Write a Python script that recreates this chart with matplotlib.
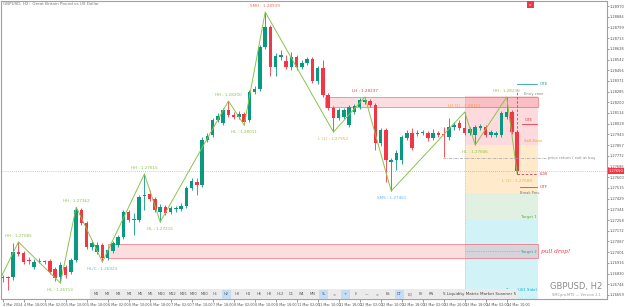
import matplotlib.pyplot as plt
from matplotlib.patches import Rectangle
import matplotlib.transforms as mtransforms
import numpy as np

# ---- data: GBPUSD H2 candles, bar 0 = 4 Mar 2024 10:00 ----
opens = [1.26802, 1.26802, 1.26802, 1.27002, 1.26994, 1.26938, 1.26882, 1.26930, 1.26930, 1.26930,
         1.26866, 1.26802, 1.26882, 1.26842, 1.26938, 1.27338, 1.27234, 1.27042, 1.27002, 1.27058,
         1.26954, 1.27010, 1.27058, 1.27122, 1.27322, 1.27258, 1.27258, 1.27450, 1.27466, 1.27426,
         1.27322, 1.27362, 1.27322, 1.27346, 1.27346, 1.27370, 1.27514, 1.27562, 1.27538, 1.27898,
         1.27938, 1.28058, 1.28034, 1.28138, 1.28098, 1.28082, 1.28106, 1.28058, 1.28282, 1.28306,
         1.28642, 1.28802, 1.28482, 1.28562, 1.28530, 1.28482, 1.28562, 1.28482, 1.28514, 1.28546,
         1.28370, 1.28474, 1.28258, 1.28154, 1.28074, 1.28082, 1.28018, 1.28122, 1.28162, 1.28202,
         1.28210, 1.28178, 1.27874, 1.27978, 1.27722, 1.27738, 1.27738, 1.27914, 1.27954, 1.27946,
         1.27954, 1.27954, 1.27914, 1.27954, 1.27946, 1.27922, 1.28002, 1.28034, 1.27994, 1.27954,
         1.27938, 1.27994, 1.28002, 1.27938, 1.27938, 1.27938, 1.28082, 1.28122, 1.27962]
closes = [1.26794, 1.26794, 1.27002, 1.26986, 1.26922, 1.26930, 1.26922, 1.26926, 1.26922, 1.26842,
          1.26794, 1.26898, 1.26818, 1.26938, 1.27338, 1.27234, 1.27042, 1.27074, 1.27058, 1.26954,
          1.27018, 1.27074, 1.27122, 1.27322, 1.27258, 1.27266, 1.27442, 1.27458, 1.27426, 1.27338,
          1.27362, 1.27314, 1.27354, 1.27350, 1.27370, 1.27514, 1.27570, 1.27538, 1.27898, 1.27930,
          1.28058, 1.28090, 1.28138, 1.28098, 1.28082, 1.28106, 1.28042, 1.28282, 1.28306, 1.28642,
          1.28802, 1.28482, 1.28570, 1.28578, 1.28482, 1.28562, 1.28482, 1.28514, 1.28546, 1.28370,
          1.28474, 1.28258, 1.28154, 1.28074, 1.28138, 1.28138, 1.28162, 1.28170, 1.28218, 1.28218,
          1.28178, 1.27874, 1.27978, 1.27738, 1.27738, 1.27794, 1.27922, 1.27954, 1.27834, 1.27954,
          1.27962, 1.27914, 1.27954, 1.27938, 1.27938, 1.28002, 1.28018, 1.27994, 1.27954, 1.27986,
          1.28002, 1.28010, 1.27938, 1.27962, 1.27954, 1.28114, 1.28122, 1.27962, 1.27650]
highs = [1.26818, 1.26810, 1.27074, 1.27082, 1.27010, 1.26962, 1.26946, 1.26954, 1.26938, 1.26946,
         1.26882, 1.26922, 1.26898, 1.26954, 1.27362, 1.27354, 1.27250, 1.27098, 1.27082, 1.27074,
         1.27034, 1.27090, 1.27138, 1.27338, 1.27338, 1.27314, 1.27458, 1.27626, 1.27498, 1.27442,
         1.27386, 1.27378, 1.27370, 1.27370, 1.27394, 1.27530, 1.27594, 1.27594, 1.27922, 1.27954,
         1.28074, 1.28114, 1.28154, 1.28210, 1.28122, 1.28130, 1.28122, 1.28298, 1.28330, 1.28658,
         1.28922, 1.28818, 1.28594, 1.28618, 1.28578, 1.28602, 1.28578, 1.28538, 1.28562, 1.28562,
         1.28490, 1.28538, 1.28274, 1.28170, 1.28154, 1.28154, 1.28178, 1.28186, 1.28234, 1.28242,
         1.28226, 1.28194, 1.27994, 1.27994, 1.27754, 1.27818, 1.27938, 1.27978, 1.27994, 1.27978,
         1.27978, 1.27970, 1.27986, 1.27970, 1.28002, 1.28074, 1.28042, 1.28058, 1.28122, 1.28002,
         1.28018, 1.28026, 1.28018, 1.27978, 1.27970, 1.28130, 1.28242, 1.28138, 1.27978]
lows = [1.26762, 1.26698, 1.26778, 1.26970, 1.26906, 1.26906, 1.26866, 1.26914, 1.26906, 1.26826,
        1.26770, 1.26754, 1.26794, 1.26826, 1.26922, 1.27218, 1.27026, 1.27018, 1.26986, 1.26922,
        1.26938, 1.26994, 1.27042, 1.27106, 1.27242, 1.27138, 1.27242, 1.27338, 1.27410, 1.27322,
        1.27242, 1.27298, 1.27306, 1.27322, 1.27330, 1.27354, 1.27498, 1.27458, 1.27522, 1.27882,
        1.27922, 1.28042, 1.28018, 1.28082, 1.28066, 1.28066, 1.28018, 1.28042, 1.28266, 1.28290,
        1.28626, 1.28410, 1.28410, 1.28538, 1.28466, 1.28458, 1.28458, 1.28466, 1.28498, 1.28354,
        1.28346, 1.28242, 1.28138, 1.27962, 1.28058, 1.28066, 1.28002, 1.28106, 1.28146, 1.28186,
        1.28162, 1.27818, 1.27850, 1.27562, 1.27490, 1.27658, 1.27706, 1.27898, 1.27818, 1.27930,
        1.27938, 1.27890, 1.27898, 1.27922, 1.27762, 1.27898, 1.27978, 1.27978, 1.27938, 1.27938,
        1.27858, 1.27978, 1.27922, 1.27922, 1.27922, 1.27922, 1.28066, 1.27946, 1.27626]

# swing points of the zigzag (bar index, price)
swing_bar = [-1, 3, 11, 14, 19, 27, 30, 43, 46, 50, 63, 69, 74, 88, 90, 96, 98]
swing_price = [1.26742, 1.27082, 1.26754, 1.27362, 1.26922, 1.27626, 1.27242, 1.28210, 1.28018,
               1.28922, 1.27962, 1.28242, 1.27490, 1.28122, 1.27858, 1.28242, 1.27626]
swing_text = ['', 'HH : 1.27085', 'HL : 1.26713', 'HH : 1.27362', 'HL/C : 1.26923', 'HH : 1.27615',
              'HL : 1.27215', 'HH : 1.28200', 'HL : 1.28011', 'SMH : 1.28939', 'L (1) : 1.27952',
              'LH : 1.28237', 'SMS : 1.27461', 'LH (1) : 1.28111', 'HL : 1.27846', 'HH : 1.28239',
              'L (1) : 1.27688']
swing_color = ['', '#8bc34a', '#8bc34a', '#8bc34a', '#64b5f6', '#8bc34a', '#8bc34a', '#8bc34a',
               '#8bc34a', '#f0695a', '#e0b054', '#c0504d', '#64b5f6', '#f0a050', '#8bc34a',
               '#8bc34a', '#e0b054']

dates = ['4 Mar 2024', '4 Mar 18:00', '5 Mar 02:00', '5 Mar 10:00', '5 Mar 18:00', '6 Mar 02:00',
         '6 Mar 10:00', '6 Mar 18:00', '7 Mar 02:00', '7 Mar 10:00', '7 Mar 18:00', '8 Mar 02:00',
         '8 Mar 10:00', '8 Mar 18:00', '11 Mar 02:00', '11 Mar 10:00', '11 Mar 18:00', '12 Mar 02:00',
         '12 Mar 10:00', '12 Mar 18:00', '13 Mar 02:00', '13 Mar 10:00', '13 Mar 18:00',
         '14 Mar 02:00', '14 Mar 10:00']

buttons = ['M1', 'M2', 'M3', 'M4', 'M5', 'M6', 'M10', 'M12', 'M15', 'M20', 'M30', 'H1', 'H2', 'H3',
           'H4', 'H6', 'H8', 'H12', 'D1', 'W1', 'MN', 'SL', '<', '+', '()', '—', '>', 'ES', 'DT',
           'LQ', 'FE', 'RN']
active = ['H2', 'SL', '+', 'DT']

last_price = 1.27650
zone_top = (1.28246, 1.28166)      # supply zone
zone_low = (1.27066, 1.26954)      # "pull drop!" zone
box_levels = [1.28250, 1.27858, 1.27474, 1.27266, 1.26626]

# ---- figure ----
W, H = 625, 307
fig = plt.figure(figsize=(W / 100, H / 100), dpi=100)
ax = fig.add_axes([1 / W, 1 - 299 / H, 606 / W, 298 / H])

o, h, l, c = map(np.array, (opens, highs, lows, closes))
xb = np.arange(len(o))
col = np.where(c >= o, '#089981', '#f23645')
ax.vlines(xb, l, h, colors=col, lw=0.6, zorder=4)
ax.bar(xb, np.maximum(np.abs(c - o), 0.00005), bottom=np.minimum(o, c), width=0.66,
       color=col, lw=0, zorder=5)

# zones
ax.add_patch(Rectangle((61.4, zone_top[1]), 101.96 - 61.4, zone_top[0] - zone_top[1],
                       fc=(0.95, 0.21, 0.27, 0.16), ec=(0.95, 0.21, 0.27, 0.5), lw=0.7, zorder=2))
ax.add_patch(Rectangle((20.0, zone_low[1]), 101.96 - 20.0, zone_low[0] - zone_low[1],
                       fc=(0.95, 0.21, 0.27, 0.16), ec=(0.95, 0.21, 0.27, 0.5), lw=0.7, zorder=2))

# projection box
box_cols = [('#f23645', 0.18), ('#ff9800', 0.2), ('#4caf50', 0.17), ('#00bcd4', 0.18)]
for i, (cc, a) in enumerate(box_cols):
    ax.add_patch(Rectangle((88.06, box_levels[i + 1]), 101.96 - 88.06,
                           box_levels[i] - box_levels[i + 1], fc=cc, alpha=a, lw=0, zorder=1))
ax.plot([88.06, 88.06], [box_levels[-1], box_levels[0]], color='#bbbbbb', lw=0.4, ls=(0, (2, 2)), zorder=2)

# zigzag
ax.plot(swing_bar, swing_price, color='#8bc34a', lw=0.7, zorder=6)
for i in range(1, len(swing_bar)):
    peak = swing_price[i] >= swing_price[i - 1]
    ax.annotate(swing_text[i], (swing_bar[i], swing_price[i]), xytext=(0, 3 if peak else -3.5),
                textcoords='offset points', ha='center', va='bottom' if peak else 'top',
                fontsize=3.0, color=swing_color[i], zorder=7)

# current price line
ax.axhline(last_price, color='#f23645', lw=0.5, ls=(0, (1, 2)), alpha=0.7, zorder=3)
tr = mtransforms.blended_transform_factory(ax.transAxes, ax.transData)
ax.text(1.002, last_price, f'{last_price:.5f}', transform=tr, fontsize=2.6, color='white',
        va='center', ha='left', bbox=dict(fc='#f23645', ec='none', pad=0.5), zorder=10, clip_on=False)

# annotations inside the projection box
ax.plot([98, 101.8], [1.28346, 1.28346], color='#26a69a', lw=0.6, zorder=6)
ax.text(102.2, 1.28346, 'OTE', fontsize=3, color='#26a69a', va='center')
ax.text(99.3, 1.28262, 'Entry zone', fontsize=2.6, color='#888888', va='center')
ax.plot([99.0, 101.8], [1.28026, 1.28026], color='#f23645', lw=0.6, zorder=6)
ax.text(99.4, 1.28040, 'OTE', fontsize=2.8, color='#f23645', va='bottom')
ax.text(99.2, 1.27874, 'Sell Zone', fontsize=2.8, color='#ff9800', va='bottom')
ax.plot([98, 98], [1.27626, 1.28298], color='#d04050', lw=0.6, ls=(0, (3, 2)), zorder=6)
ax.plot([98, 101.8], [1.27626, 1.27626], color='#d04050', lw=0.6, ls=(0, (3, 2)), zorder=6)
ax.text(102.3, 1.27626, 'LOB', fontsize=3, color='#d04050', va='center')
ax.plot([98.5, 101.8], [1.27522, 1.27522], color='#f23645', lw=0.6, zorder=6)
ax.text(102.3, 1.27522, 'OTF', fontsize=3, color='#f23645', va='center')
ax.text(98.5, 1.27490, 'Break Prev.', fontsize=2.6, color='#777777', va='top')
ax.plot([83.9, 103.7], [1.27754, 1.27754], color='#9a9a9a', lw=0.5, ls=(0, (4, 1.5, 1, 1.5)), zorder=6)
ax.text(103.9, 1.27754, 'price return / exit at buy', fontsize=2.8, color='#888888', va='center')
ax.plot([88.06, 99], [1.27010, 1.27010], color='#999999', lw=0.5, ls=(0, (1, 1.5)), zorder=6)
ax.text(101.8, 1.27298, 'Target 1', fontsize=2.8, color='#4caf50', ha='right', va='top')
ax.text(101.8, 1.27018, 'Target 2', fontsize=2.8, color='#26a69a', ha='right', va='top')
ax.text(101.8, 1.26714, 'Target(4/1 Side)', fontsize=2.8, color='#00acc1', ha='right', va='top')
ax.text(102.6, 1.27010, 'pull drop!', fontsize=4.2, color='#f23645', style='italic',
        family='serif', va='center')

# axes styling
ax.set_xlim(-0.32, 115.1)
ax.set_ylim(1.26626, 1.29010)
ax.yaxis.tick_right()
yt = 1.28970 - 0.000856 * np.arange(28)
ax.set_yticks(yt)
ax.set_yticklabels([f'{v:.5f}' for v in yt])
ax.tick_params(axis='y', labelsize=2.6, length=1.5, width=0.4, pad=0.6, colors='#555555')
ax.set_xticks(np.arange(0, 97, 4))
ax.set_xticklabels(dates, ha='left')
ax.tick_params(axis='x', labelsize=2.4, length=2, width=0.4, pad=0.6, colors='#555555')
for s in ax.spines.values():
    s.set_color('#a0a0a0')
    s.set_linewidth(0.8)

# chrome: title, symbol watermark, close button, toolbar
def fx(px):
    return px / W

def fy(py):
    return 1 - py / H

fig.text(fx(3), fy(4), 'GBPUSD, H2:  Great Britain Pound vs US Dollar', fontsize=3.0,
         color='#777777', va='center')
fig.text(fx(602), fy(286), 'GBPUSD, H2', fontsize=6, color='#8a8a8a', ha='right', va='center')
fig.text(fx(601), fy(295), 'SMCpro.MT5 — Version 1.1', fontsize=2.6, color='#999999', ha='right',
         va='center')
fig.patches.append(Rectangle((fx(527), fy(8)), 7 / W, 7 / H, transform=fig.transFigure,
                             fc='#f23645', ec='none', zorder=5))
fig.text(fx(530.5), fy(4.5), 'x', fontsize=3, color='white', ha='center', va='center', zorder=6)

fig.patches.append(Rectangle((fx(90), fy(299)), (518 - 90) / W, 10 / H, transform=fig.transFigure,
                             fc='#ebebeb', ec='none', zorder=5))
for i, b in enumerate(buttons):
    cx = 96.7 + 10.8 * i
    if b in active:
        fig.patches.append(Rectangle((fx(cx - 4.5), fy(298.5)), 9 / W, 9 / H,
                                     transform=fig.transFigure, fc='#c5dcf5', ec='none', zorder=6))
    fig.text(fx(cx), fy(294), b, fontsize=2.6, color='#555555', ha='center', va='center', zorder=7)
fig.text(fx(443), fy(294), '5 Liquidity Matrix Market Scanner 5', fontsize=3.0, color='#444444',
         va='center', zorder=7)

fig.savefig('out.png', dpi=100)
